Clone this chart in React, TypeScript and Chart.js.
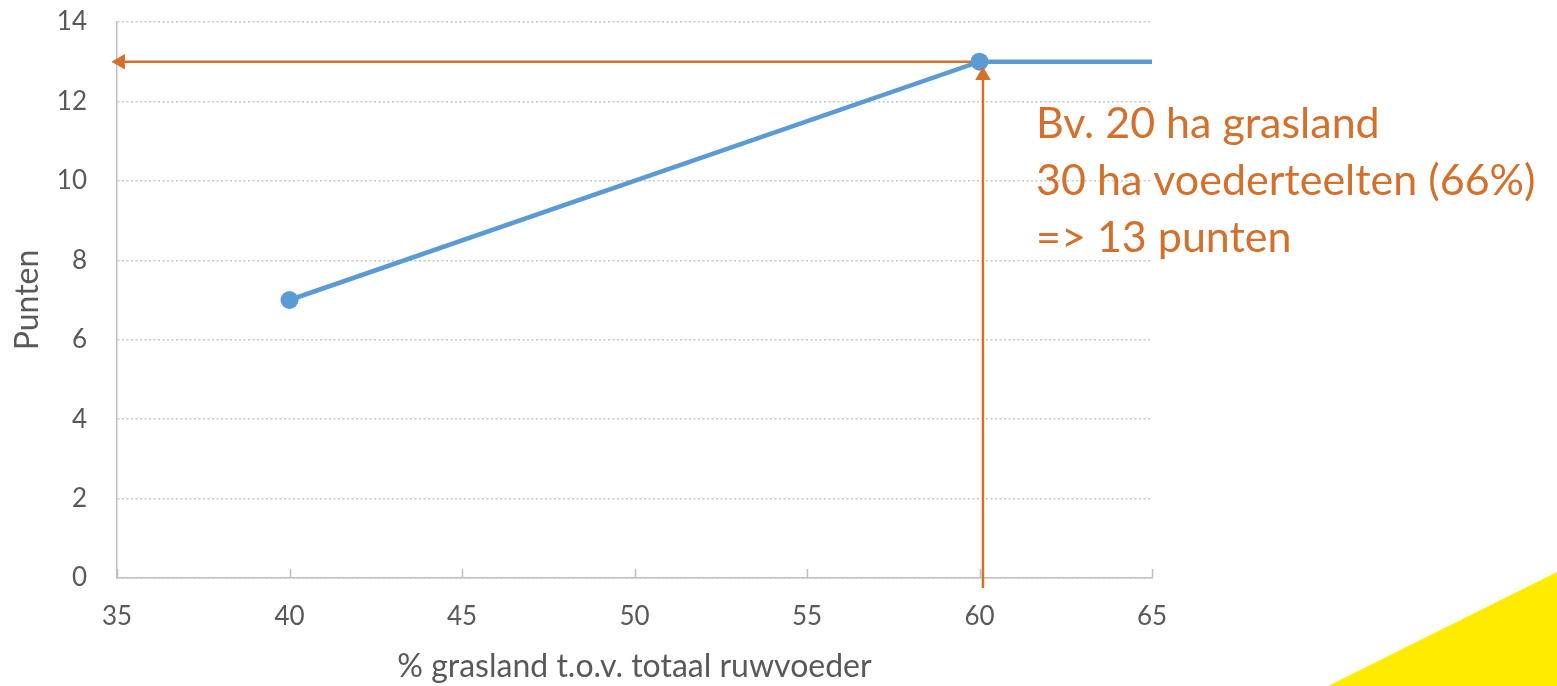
import React, { useEffect, useRef } from "react";
import { Chart, registerables } from "chart.js";

Chart.register(...registerables);

// ---- data ----
const curveX: number[] = [40, 60, 65];
const curveY: number[] = [7, 13, 13];
const curveMarkers: number[] = [9, 9, 0];

const hArrowX: number[] = [60, 35.1];
const hArrowY: number[] = [13, 13];

const vArrowX: number[] = [60.1, 60.1];
const vArrowY: number[] = [-0.25, 12.65];

const noteLines: string[] = ["Bv. 20 ha grasland", "30 ha voederteelten (66%)", "=> 13 punten"];

const xTitle = "% grasland t.o.v. totaal ruwvoeder";
const yTitle = "Punten";

const BLUE = "#5B9BD5";
const ORANGE = "#D4702C";
const FONT = "Lato";

const toPts = (xs: number[], ys: number[]) => xs.map((x, i) => ({ x, y: ys[i] }));

const xTickMarks = {
  id: "xTickMarks",
  afterDraw(chart: any) {
    const { ctx, scales } = chart;
    const xs = scales.x;
    const bottom = chart.chartArea.bottom;
    ctx.save();
    ctx.strokeStyle = "#BFBFBF";
    ctx.lineWidth = 1.5;
    xs.ticks.forEach((t: any) => {
      const px = Math.round(xs.getPixelForValue(t.value)) + 0.5;
      ctx.beginPath();
      ctx.moveTo(px, bottom);
      ctx.lineTo(px, bottom - 9);
      ctx.stroke();
    });
    ctx.restore();
  },
};

const noteText = {
  id: "noteText",
  afterDraw(chart: any) {
    const { ctx } = chart;
    ctx.save();
    ctx.fillStyle = ORANGE;
    ctx.font = `43px ${FONT}`;
    ctx.textAlign = "left";
    ctx.textBaseline = "alphabetic";
    noteLines.forEach((line, i) => {
      ctx.fillText(line, 1036, 138 + i * 57);
    });
    ctx.restore();
  },
};

export default function App() {
  const ref = useRef<HTMLCanvasElement | null>(null);

  useEffect(() => {
    if (!ref.current) return;
    const chart = new Chart(ref.current, {
      type: "line",
      data: {
        datasets: [
          {
            label: "curve",
            data: toPts(curveX, curveY),
            borderColor: BLUE,
            backgroundColor: BLUE,
            borderWidth: 4.5,
            pointRadius: curveMarkers,
            pointBackgroundColor: BLUE,
            pointBorderColor: BLUE,
            pointBorderWidth: 0,
            tension: 0,
            order: 2,
          } as any,
          {
            label: "h-arrow",
            data: toPts(hArrowX, hArrowY),
            borderColor: ORANGE,
            backgroundColor: ORANGE,
            borderWidth: 2.5,
            pointRadius: [0, 9],
            pointStyle: "triangle",
            pointRotation: 270,
            pointBackgroundColor: ORANGE,
            pointBorderWidth: 0,
            clip: false,
            order: 3,
          } as any,
          {
            label: "v-arrow",
            data: toPts(vArrowX, vArrowY),
            borderColor: ORANGE,
            backgroundColor: ORANGE,
            borderWidth: 2.5,
            pointRadius: [0, 9],
            pointStyle: "triangle",
            pointRotation: 0,
            pointBackgroundColor: ORANGE,
            pointBorderWidth: 0,
            clip: false,
            order: 1,
          } as any,
        ],
      },
      options: {
        animation: false,
        responsive: false,
        maintainAspectRatio: false,
        layout: { padding: { left: 0, top: 22, right: 405, bottom: 0 } },
        plugins: {
          legend: { display: false },
          tooltip: { enabled: false },
        },
        scales: {
          x: {
            type: "linear",
            min: 35,
            max: 65,
            afterFit: (s: any) => {
              s.height = 108;
              s.paddingLeft = 0;
              s.paddingRight = 0;
            },
            ticks: {
              stepSize: 5,
              color: "#595959",
              font: { family: FONT, size: 26 },
              padding: 23,
            },
            grid: { display: false, drawTicks: false },
            border: { display: true, color: "#BFBFBF", width: 1.5 },
            title: {
              display: true,
              text: xTitle,
              color: "#595959",
              font: { family: FONT, size: 32 },
              padding: { top: 0, bottom: 0 },
            },
          },
          y: {
            type: "linear",
            min: 0,
            max: 14,
            afterFit: (s: any) => {
              s.width = 117;
              s.paddingTop = 0;
              s.paddingBottom = 0;
            },
            ticks: {
              stepSize: 2,
              color: "#595959",
              font: { family: FONT, size: 26 },
              padding: 30,
            },
            grid: {
              color: "#C8C8C8",
              lineWidth: 1.5,
              drawTicks: false,
            },
            border: { display: true, color: "#BFBFBF", width: 1.5, dash: [2, 2.5] },
            title: {
              display: true,
              text: yTitle,
              color: "#595959",
              font: { family: FONT, size: 32 },
              padding: { top: 8, bottom: 0 },
            },
          },
        },
      } as any,
      plugins: [xTickMarks, noteText],
    });
    return () => chart.destroy();
  }, []);

  return (
    <div style={{ position: "absolute", left: 0, top: 0, width: 1557, height: 686, background: "#fff", overflow: "hidden" }}>
      <canvas ref={ref} width={1557} height={686} style={{ position: "absolute", left: 0, top: 0 }} />
      <div
        style={{
          position: "absolute",
          left: 0,
          top: 0,
          width: 1557,
          height: 686,
          background: "#FFEB00",
          clipPath: "polygon(1328px 686px, 1557px 572px, 1557px 686px)",
          pointerEvents: "none",
        }}
      />
    </div>
  );
}
